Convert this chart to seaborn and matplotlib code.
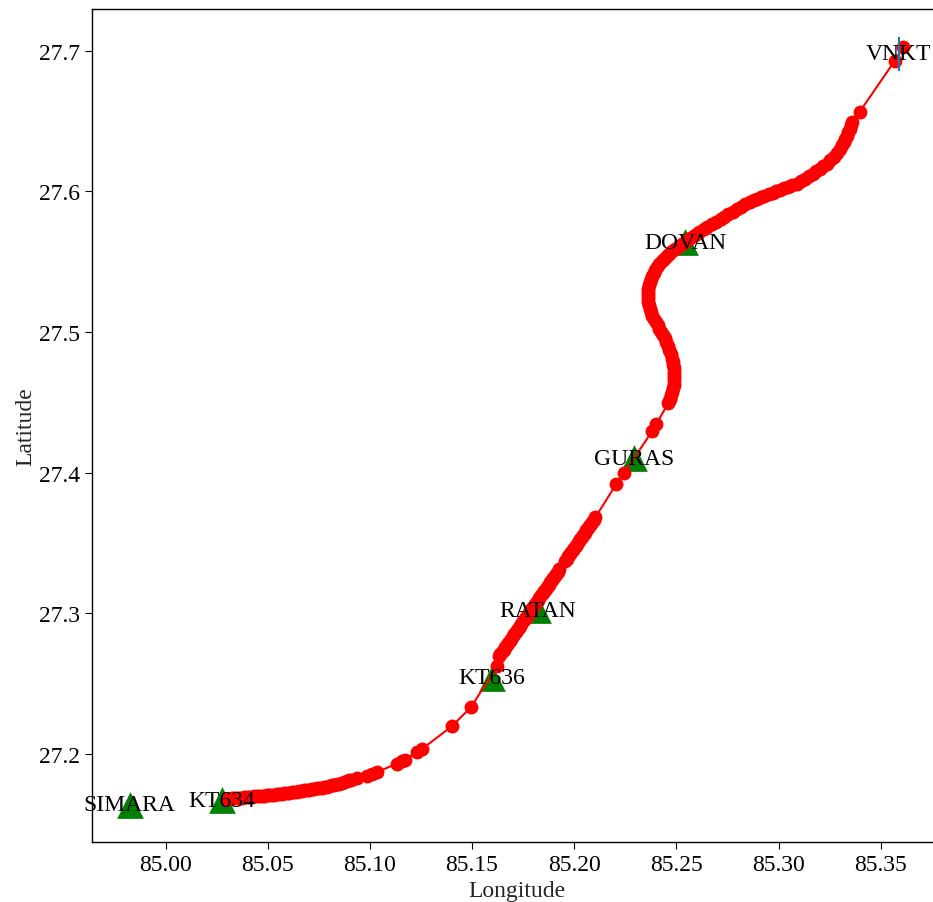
import matplotlib
matplotlib.use("Agg")
import matplotlib.pyplot as plt
import seaborn as sns
import pandas as pd

# Flight track in pieces (longitude / latitude)
lon_start = [
    85.0299, 85.0311, 85.0324, 85.0336, 85.0348, 85.0360, 85.0373, 85.0385, 85.0397, 85.0409,
    85.0422, 85.0434, 85.0446, 85.0458, 85.0471, 85.0483, 85.0495, 85.0507, 85.0520, 85.0532,
    85.0544, 85.0556, 85.0569, 85.0581, 85.0593, 85.0605, 85.0618, 85.0630, 85.0642, 85.0654,
    85.0667, 85.0679, 85.0691, 85.0703, 85.0716, 85.0728, 85.0740, 85.0752, 85.0765, 85.0777,
    85.0789, 85.0801, 85.0814, 85.0826, 85.0838, 85.0850, 85.0863, 85.0875, 85.0887, 85.0897,
    85.0907,
]
lat_start = [
    27.1680, 27.1683, 27.1685, 27.1687, 27.1689, 27.1690, 27.1691, 27.1693, 27.1694, 27.1696,
    27.1697, 27.1699, 27.1700, 27.1702, 27.1703, 27.1705, 27.1706, 27.1708, 27.1710, 27.1712,
    27.1713, 27.1716, 27.1718, 27.1720, 27.1723, 27.1725, 27.1728, 27.1731, 27.1734, 27.1737,
    27.1740, 27.1742, 27.1745, 27.1748, 27.1751, 27.1753, 27.1756, 27.1759, 27.1762, 27.1765,
    27.1769, 27.1773, 27.1777, 27.1781, 27.1785, 27.1790, 27.1796, 27.1802, 27.1808, 27.1813,
    27.1819,
]
lon_sparse1 = [85.0936, 85.0985, 85.1010, 85.1034, 85.1132, 85.1157, 85.1172, 85.1230, 85.1255,
               85.1402, 85.1495, 85.1623]
lat_sparse1 = [27.1829, 27.1847, 27.1858, 27.1872, 27.1932, 27.1950, 27.1961, 27.2014, 27.2036,
               27.2199, 27.2334, 27.2626]
lon_climb1 = [
    85.1632, 85.1639, 85.1647, 85.1654, 85.1662, 85.1669, 85.1676, 85.1684, 85.1691, 85.1698,
    85.1706, 85.1713, 85.1720, 85.1728, 85.1735, 85.1742, 85.1750, 85.1757, 85.1764, 85.1772,
    85.1779, 85.1786, 85.1794, 85.1801, 85.1809, 85.1816, 85.1823, 85.1830, 85.1838, 85.1845,
    85.1853, 85.1860, 85.1867, 85.1875, 85.1882, 85.1889, 85.1897, 85.1904, 85.1911, 85.1919,
    85.1926,
]
lat_climb1 = [
    27.2697, 27.2712, 27.2728, 27.2743, 27.2759, 27.2774, 27.2789, 27.2805, 27.2820, 27.2836,
    27.2851, 27.2866, 27.2882, 27.2897, 27.2913, 27.2928, 27.2943, 27.2959, 27.2974, 27.2990,
    27.3005, 27.3020, 27.3036, 27.3051, 27.3067, 27.3082, 27.3097, 27.3113, 27.3128, 27.3144,
    27.3159, 27.3174, 27.3190, 27.3205, 27.3221, 27.3236, 27.3251, 27.3267, 27.3282, 27.3298,
    27.3313,
]
lon_climb2 = [85.1956, 85.1963, 85.1970, 85.1978, 85.1985, 85.1993, 85.2000, 85.2007, 85.2015,
              85.2022, 85.2029, 85.2037, 85.2044, 85.2051, 85.2059, 85.2066, 85.2073, 85.2081,
              85.2088, 85.2095, 85.2103]
lat_climb2 = [27.3374, 27.3390, 27.3405, 27.3420, 27.3436, 27.3451, 27.3467, 27.3482, 27.3497,
              27.3513, 27.3528, 27.3544, 27.3559, 27.3574, 27.3590, 27.3605, 27.3621, 27.3636,
              27.3651, 27.3667, 27.3682]
lon_sparse2 = [85.2206, 85.2245, 85.2382, 85.2402]
lat_sparse2 = [27.3920, 27.3999, 27.4297, 27.4347]
lon_curve = [
    85.2461, 85.2466, 85.2471, 85.2476, 85.2480, 85.2484, 85.2488, 85.2489, 85.2490, 85.2490,
    85.2490, 85.2488, 85.2485, 85.2483, 85.2480, 85.2473, 85.2466, 85.2459, 85.2451, 85.2443,
    85.2434, 85.2426, 85.2417, 85.2409, 85.2400, 85.2391, 85.2382, 85.2376, 85.2370, 85.2367,
    85.2363, 85.2362, 85.2360, 85.2362, 85.2363, 85.2367, 85.2370, 85.2376, 85.2382, 85.2390,
    85.2397, 85.2407, 85.2417, 85.2428, 85.2439, 85.2453, 85.2466, 85.2481, 85.2495, 85.2512,
    85.2529, 85.2549, 85.2569, 85.2591, 85.2613, 85.2633, 85.2652, 85.2674, 85.2696, 85.2716,
    85.2735, 85.2755, 85.2775, 85.2795, 85.2814, 85.2836, 85.2858, 85.2878, 85.2897, 85.2914,
    85.2931, 85.2951, 85.2971, 85.2988, 85.3005, 85.3025, 85.3044, 85.3066, 85.3088, 85.3108,
    85.3128, 85.3148, 85.3167, 85.3184, 85.3201, 85.3218, 85.3235, 85.3253, 85.3270, 85.3285,
    85.3299, 85.3309, 85.3319, 85.3326, 85.3333, 85.3341, 85.3348, 85.3353, 85.3358,
]
lat_curve = [
    27.4496, 27.4511, 27.4525, 27.4550, 27.4575, 27.4600, 27.4624, 27.4649, 27.4674, 27.4696,
    27.4717, 27.4742, 27.4767, 27.4788, 27.4809, 27.4841, 27.4873, 27.4902, 27.4930, 27.4955,
    27.4980, 27.5002, 27.5023, 27.5048, 27.5072, 27.5094, 27.5115, 27.5140, 27.5165, 27.5190,
    27.5215, 27.5240, 27.5264, 27.5286, 27.5307, 27.5332, 27.5357, 27.5379, 27.5400, 27.5421,
    27.5442, 27.5464, 27.5485, 27.5503, 27.5520, 27.5538, 27.5556, 27.5574, 27.5592, 27.5610,
    27.5627, 27.5649, 27.5670, 27.5691, 27.5712, 27.5730, 27.5748, 27.5766, 27.5784, 27.5802,
    27.5819, 27.5837, 27.5855, 27.5873, 27.5890, 27.5908, 27.5926, 27.5937, 27.5947, 27.5958,
    27.5969, 27.5980, 27.5990, 27.6001, 27.6011, 27.6022, 27.6033, 27.6044, 27.6054, 27.6072,
    27.6089, 27.6107, 27.6125, 27.6143, 27.6161, 27.6179, 27.6196, 27.6221, 27.6246, 27.6275,
    27.6303, 27.6328, 27.6353, 27.6374, 27.6395, 27.6420, 27.6445, 27.6470, 27.6495,
]
lon_final = [85.3397, 85.3569, 85.3608]
lat_final = [27.6566, 27.6929, 27.7028]

# Waypoints
wp_names = ["SIMARA", "KT634", "KT636", "RATAN", "GURAS", "DOVAN"]
wp_lon = [84.9824, 85.0276, 85.1597, 85.1821, 85.2294, 85.2543]
wp_lat = [27.1641, 27.1671, 27.2544, 27.3021, 27.4104, 27.5639]

# Airport
apt_name = "VNKT"
apt_lon = 85.3588
apt_lat = 27.6980

track_lon = lon_start + lon_sparse1 + lon_climb1 + lon_climb2 + lon_sparse2 + lon_curve + lon_final
track_lat = lat_start + lat_sparse1 + lat_climb1 + lat_climb2 + lat_sparse2 + lat_curve + lat_final

sns.set_style("ticks")
plt.rcParams["font.family"] = ["Liberation Serif", "DejaVu Serif"]
plt.rcParams["axes.edgecolor"] = "black"
plt.rcParams["xtick.color"] = "black"
plt.rcParams["ytick.color"] = "black"

fig = plt.figure(figsize=(9.33, 9.03), dpi=100)
ax = fig.add_axes([92 / 933, 60 / 903, 850 / 933, 833 / 903])

track = pd.DataFrame({"lon": track_lon, "lat": track_lat})
wps = pd.DataFrame({"lon": wp_lon, "lat": wp_lat, "name": wp_names})

sns.scatterplot(data=wps, x="lon", y="lat", marker="^", s=370, color="green",
                linewidth=0, ax=ax, zorder=2)
sns.lineplot(data=track, x="lon", y="lat", sort=False, estimator=None, color="red",
             marker="o", markersize=10, markeredgewidth=0, linewidth=1.5, ax=ax, zorder=3)
ax.plot([apt_lon], [apt_lat], marker="|", markersize=24, markeredgewidth=1.5,
        color="#1f77b4", linestyle="none", zorder=4)

for n, x, y in zip(wp_names, wp_lon, wp_lat):
    ax.text(x, y, n, ha="center", va="center", fontsize=17, color="black", zorder=5)
ax.text(apt_lon, apt_lat, apt_name, ha="center", va="center", fontsize=17,
        color="black", zorder=5)

ax.set_xlim(84.9640, 85.3800)
ax.set_ylim(27.1375, 27.7297)
ax.set_xticks([85.00, 85.05, 85.10, 85.15, 85.20, 85.25, 85.30, 85.35])
ax.set_yticks([27.2, 27.3, 27.4, 27.5, 27.6, 27.7])
ax.tick_params(labelsize=17, length=5, width=0.8)
ax.set_xlabel("Longitude", fontsize=17)
ax.set_ylabel("Latitude", fontsize=17, labelpad=2)
for s in ax.spines.values():
    s.set_linewidth(1.0)
    s.set_visible(True)

fig.savefig("out.png", dpi=100)
